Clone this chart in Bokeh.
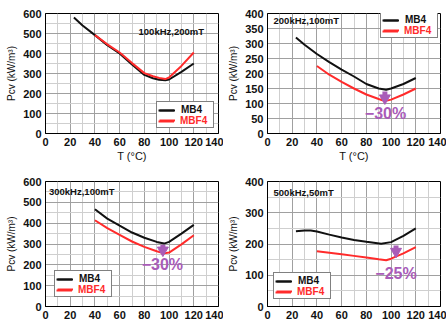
from bokeh.plotting import figure
from bokeh.layouts import gridplot
from bokeh.models import Range1d, FixedTicker, Legend, LegendItem, Label
from bokeh.embed import file_html
from bokeh.resources import INLINE

# ---------------- data ----------------
x_ticks = [0, 20, 40, 60, 80, 100, 120, 140]
x_minor = [10, 30, 50, 70, 90, 110, 130]

# Panel 1: 100kHz, 200mT
p1_t_mb4 = [23, 30, 40, 50, 60, 70, 80, 87, 92, 97, 100, 110, 120]
p1_mb4 = [580, 540, 492, 442, 400, 345, 293, 276, 269, 266, 270, 308, 350]
p1_t_mbf4 = [40, 50, 60, 70, 80, 87, 92, 97, 100, 110, 120]
p1_mbf4 = [492, 446, 405, 352, 302, 286, 278, 272, 280, 338, 405]

# Panel 2: 200kHz, 100mT
p2_t_mb4 = [23, 30, 40, 50, 60, 70, 80, 90, 96, 100, 110, 120]
p2_mb4 = [320, 296, 265, 238, 213, 190, 165, 150, 146, 150, 165, 185]
p2_t_mbf4 = [40, 50, 60, 70, 80, 90, 95, 100, 110, 120]
p2_mbf4 = [225, 196, 172, 150, 130, 115, 108, 113, 130, 150]

# Panel 3: 300kHz, 100mT
p3_t_mb4 = [40, 50, 60, 70, 80, 90, 96, 100, 110, 120]
p3_mb4 = [467, 422, 388, 355, 330, 310, 302, 310, 350, 392]
p3_t_mbf4 = [40, 50, 60, 70, 80, 90, 96, 100, 110, 120]
p3_mbf4 = [414, 376, 344, 312, 286, 265, 255, 259, 298, 342]

# Panel 4: 500kHz, 50mT
p4_t_mb4 = [23, 30, 35, 40, 50, 60, 70, 80, 92, 100, 110, 120]
p4_mb4 = [241, 243, 243, 240, 230, 221, 213, 207, 201, 206, 226, 250]
p4_t_mbf4 = [40, 50, 60, 70, 80, 90, 96, 100, 110, 120]
p4_mbf4 = [177, 172, 167, 162, 157, 151, 148, 153, 170, 190]

# Reduction arrows (x, top, bottom) and labels
p2_arrow = (95, 140, 110)
p3_arrow = (95, 296, 258)
p4_arrow = (104, 195, 168)
p2_note = (95.5, 68, "\u221230%")
p3_note = (94.6, 202, "\u221230%")
p4_note = (104, 105, "\u221225%")

titles = ["100kHz,200mT", "200kHz,100mT", "300kHz,100mT", "500kHz,50mT"]
series_names = ["MB4", "MBF4"]

BLACK = "#111111"
RED = "#ff2b2b"
PURPLE = "#a95cb8"
FONT = "Liberation Sans"


def make_panel(ymax, yticks, yminor, tm, vm, tf, vf, bl, br, bt, bb, xlabel=True):
    p = figure(width=223, height=164, output_backend="svg", toolbar_location=None,
               x_range=Range1d(0, 140), y_range=Range1d(0, ymax),
               min_border_left=bl, min_border_right=br, min_border_top=bt,
               min_border_bottom=bb)
    p.outline_line_color = "black"
    p.outline_line_width = 1
    xt = FixedTicker(ticks=x_ticks, minor_ticks=x_minor)
    yt = FixedTicker(ticks=yticks, minor_ticks=yminor)
    p.xaxis.ticker = xt
    p.yaxis.ticker = yt
    p.xgrid.ticker = xt
    p.ygrid.ticker = yt
    for ax in (p.xaxis, p.yaxis):
        ax.major_tick_in = 0
        ax.major_tick_out = 0
        ax.minor_tick_in = 0
        ax.minor_tick_out = 0
        ax.axis_line_color = "black"
        ax.major_label_text_font = FONT
        ax.major_label_text_font_style = "bold"
        ax.major_label_text_font_size = "11px"
        ax.major_label_text_color = "#111111"
        ax.axis_label_text_font = FONT
        ax.axis_label_text_font_style = "normal"
        ax.axis_label_text_font_size = "11px"
        ax.axis_label_text_color = "#111111"
    p.xaxis.major_label_standoff = 4
    p.yaxis.major_label_standoff = 4
    p.yaxis.axis_label = "Pcv (kW/m\u00b3)"
    p.yaxis.axis_label_standoff = 3
    p.yaxis.axis_label_text_font_size = "10px"
    if xlabel:
        p.xaxis.axis_label = "T (\u00b0C)"
        p.xaxis.axis_label_standoff = 1
    for g in (p.xgrid[0], p.ygrid[0]):
        g.grid_line_color = "#a0a0a0"
        g.grid_line_alpha = 1.0
        g.grid_line_width = 1
        g.minor_grid_line_color = "#cfcfcf"
        g.minor_grid_line_alpha = 1.0
        g.minor_grid_line_width = 1
    r1 = p.line(tm, vm, line_color=BLACK, line_width=2)
    r2 = p.line(tf, vf, line_color=RED, line_width=2)
    return p, r1, r2


def legend_common():
    return dict(orientation="vertical", padding=2, margin=0, spacing=0,
                glyph_width=16, glyph_height=10, label_height=10, label_width=30,
                label_standoff=6, label_text_font=FONT, label_text_font_style="bold",
                label_text_font_size="10px")


def add_legend(p, r1, r2, left, bottom):
    # bordered box: black "MB4" row + red line glyph row
    base = Legend(items=[LegendItem(label=series_names[0], renderers=[r1]),
                         LegendItem(label=" ", renderers=[r2])],
                  location=(left, bottom), border_line_color="#808080", border_line_width=1,
                  border_line_alpha=1.0,
                  background_fill_color="white", background_fill_alpha=1.0,
                  label_text_color="#111111", **legend_common())
    # overlay: red "MBF4" text in the second row
    over = Legend(items=[LegendItem(label=" ", renderers=[r1]),
                         LegendItem(label=series_names[1], renderers=[r2])],
                  location=(left, bottom), border_line_alpha=0, background_fill_alpha=0,
                  label_text_color=RED, **legend_common())
    p.add_layout(base)
    p.add_layout(over)


def add_title(p, x, y, text):
    p.add_layout(Label(x=x, y=y, text=text, text_font=FONT, text_font_style="bold",
                       text_font_size="9.5px", text_color="#111111",
                       text_baseline="middle", text_align="left"))


def add_arrow(p, arrow, note, ymax):
    x, y0, y1 = arrow
    p.segment(x0=[x], y0=[y0], x1=[x], y1=[y1 + ymax * 0.03], line_color=PURPLE, line_width=5)
    p.scatter(x=[x], y=[y1 + ymax * 0.02], marker="inverted_triangle", size=11,
              fill_color=PURPLE, line_color=PURPLE)
    nx, ny, nt = note
    p.add_layout(Label(x=nx, y=ny, text=nt, text_font=FONT, text_font_style="bold",
                       text_font_size="16px", text_color=PURPLE,
                       text_align="center", text_baseline="middle"))


# Panel 1
p1, a1, b1 = make_panel(600, [0, 100, 200, 300, 400, 500, 600], [50, 150, 250, 350, 450, 550],
                        p1_t_mb4, p1_mb4, p1_t_mbf4, p1_mbf4, 45, 5, 13, 29)
add_title(p1, 75.3, 508, titles[0])
add_legend(p1, a1, b1, 111, 5)

# Panel 2
p2, a2, b2 = make_panel(400, [0, 50, 100, 150, 200, 250, 300, 350, 400], [],
                        p2_t_mb4, p2_mb4, p2_t_mbf4, p2_mbf4, 44, 6, 13, 27)
add_title(p2, 4.9, 377, titles[1])
add_legend(p2, a2, b2, 113, 95)
add_arrow(p2, p2_arrow, p2_note, 400)
p2.add_layout(Label(x=39, y=426, text="ELRX-40A", text_font=FONT, text_font_style="bold",
                    text_font_size="17px", text_color="#111111", text_align="center",
                    text_baseline="alphabetic"))

# Panel 3
p3, a3, b3 = make_panel(600, [0, 100, 200, 300, 400, 500, 600], [50, 150, 250, 350, 450, 550],
                        p3_t_mb4, p3_mb4, p3_t_mbf4, p3_mbf4, 45, 5, 17, 22, xlabel=False)
add_title(p3, 2.8, 552, titles[2])
add_legend(p3, a3, b3, 9, 9)
add_arrow(p3, p3_arrow, p3_note, 600)
p3.add_layout(Label(x=70, y=-115, text="T (\u00b0C)", text_font=FONT, text_font_size="11px",
                    text_color="#111111", text_align="center", text_baseline="alphabetic"))
p3.add_layout(Label(x=-35, y=235, text="3", text_font=FONT, text_font_size="10px",
                    text_color="#111111", text_align="left", text_baseline="middle"))

# Panel 4
p4, a4, b4 = make_panel(400, [0, 100, 200, 300, 400], [50, 150, 250, 350],
                        p4_t_mb4, p4_mb4, p4_t_mbf4, p4_mbf4, 44, 6, 17, 22, xlabel=False)
add_title(p4, 4.9, 365, titles[3])
add_legend(p4, a4, b4, 6, 7)
add_arrow(p4, p4_arrow, p4_note, 400)
p4.add_layout(Label(x=70, y=-77, text="T (\u00b0C)", text_font=FONT, text_font_size="11px",
                    text_color="#111111", text_align="center", text_baseline="alphabetic"))

grid = gridplot([[p1, p2], [p3, p4]], toolbar_location=None)

open("out.html", "w").write(file_html(grid, INLINE))
